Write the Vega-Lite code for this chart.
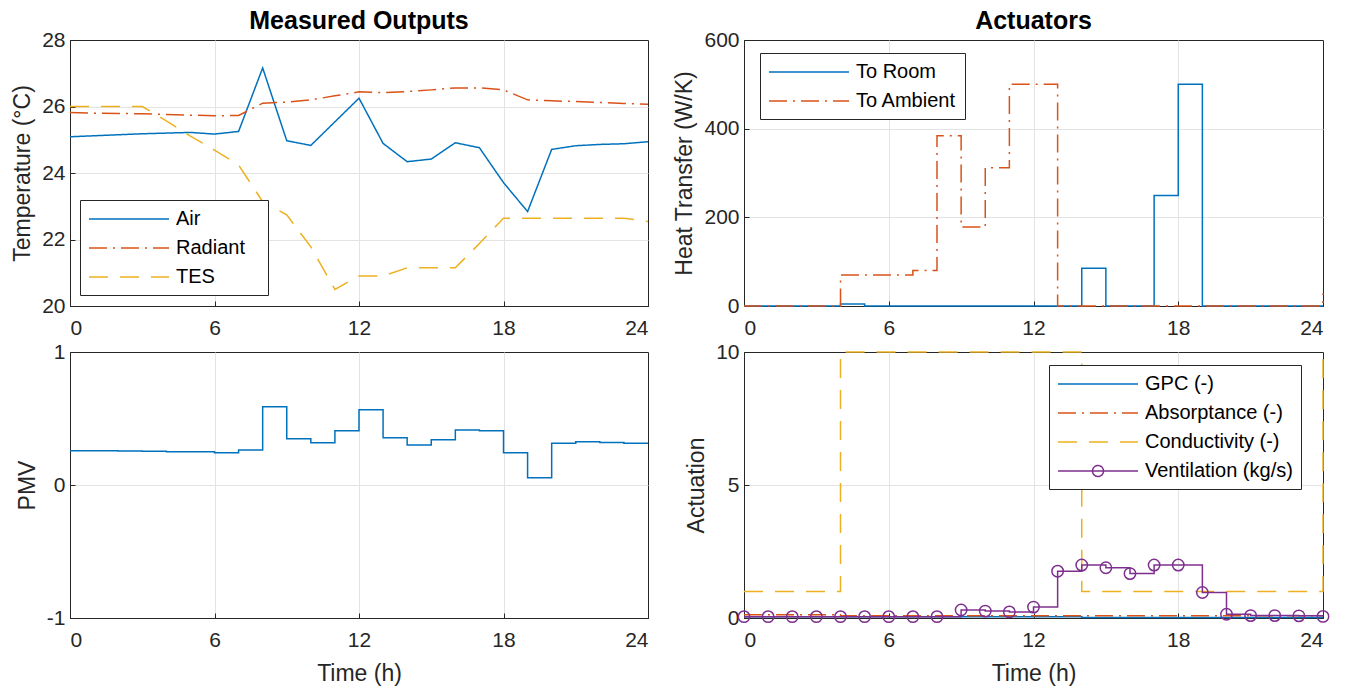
{
"$schema": "https://vega.github.io/schema/vega-lite/v6.json",
"padding": {"left": 11, "top": 8, "right": 5, "bottom": 5},
"background": "white",
"bounds": "flush",
"columns": 2,
"spacing": {"row": 46, "column": 96},
"resolve": {"scale": {"color": "independent", "strokeDash": "independent", "x": "independent", "y": "independent"}, "legend": {"color": "independent", "strokeDash": "independent"}},
"config": {
  "font": "Liberation Sans",
  "view": {"stroke": "#262626", "strokeWidth": 1},
  "axis": {"domainColor": "#262626", "tickColor": "#262626", "labelColor": "#262626", "titleColor": "#262626", "labelFontSize": 21, "titleFontSize": 23, "titleFontWeight": "normal", "gridColor": "#e3e3e3", "grid": true, "tickSize": -5, "labelPadding": 10, "titlePadding": 7},
  "axisX": {"labelPadding": 16, "titlePadding": 12, "gridOpacity": {"condition": {"test": "datum.value === 0 || datum.value === 24", "value": 0}, "value": 1}},
  "title": {"fontSize": 25, "fontWeight": "bold", "color": "#000000", "offset": -5, "anchor": "middle"},
  "legend": {"labelFontSize": 20, "labelColor": "#000000", "strokeColor": "#262626", "fillColor": "white", "padding": 8, "rowPadding": 8, "symbolSize": 400, "symbolStrokeWidth": 1.5, "symbolOffset": 30, "labelOffset": 36, "symbolType": "M-4,0H4", "cornerRadius": 0}
},
"datasets": {
 "temp": [
  {"t":0,"s":"Air","v":25.09},{"t":1,"s":"Air","v":25.12},{"t":2,"s":"Air","v":25.15},{"t":3,"s":"Air","v":25.18},{"t":4,"s":"Air","v":25.2},{"t":5,"s":"Air","v":25.22},{"t":6,"s":"Air","v":25.17},{"t":7,"s":"Air","v":25.25},{"t":8,"s":"Air","v":27.16},{"t":9,"s":"Air","v":24.97},{"t":10,"s":"Air","v":24.83},{"t":11,"s":"Air","v":25.54},{"t":12,"s":"Air","v":26.25},{"t":13,"s":"Air","v":24.89},{"t":14,"s":"Air","v":24.34},{"t":15,"s":"Air","v":24.42},{"t":16,"s":"Air","v":24.91},{"t":17,"s":"Air","v":24.76},{"t":18,"s":"Air","v":23.71},{"t":19,"s":"Air","v":22.84},{"t":20,"s":"Air","v":24.71},{"t":21,"s":"Air","v":24.82},{"t":22,"s":"Air","v":24.86},{"t":23,"s":"Air","v":24.88},{"t":24,"s":"Air","v":24.94},
  {"t":0,"s":"Radiant","v":25.82},{"t":1,"s":"Radiant","v":25.8},{"t":2,"s":"Radiant","v":25.79},{"t":3,"s":"Radiant","v":25.78},{"t":4,"s":"Radiant","v":25.76},{"t":5,"s":"Radiant","v":25.74},{"t":6,"s":"Radiant","v":25.72},{"t":7,"s":"Radiant","v":25.73},{"t":8,"s":"Radiant","v":26.1},{"t":9,"s":"Radiant","v":26.13},{"t":10,"s":"Radiant","v":26.2},{"t":11,"s":"Radiant","v":26.32},{"t":12,"s":"Radiant","v":26.44},{"t":13,"s":"Radiant","v":26.42},{"t":14,"s":"Radiant","v":26.45},{"t":15,"s":"Radiant","v":26.5},{"t":16,"s":"Radiant","v":26.56},{"t":17,"s":"Radiant","v":26.56},{"t":18,"s":"Radiant","v":26.5},{"t":19,"s":"Radiant","v":26.2},{"t":20,"s":"Radiant","v":26.17},{"t":21,"s":"Radiant","v":26.15},{"t":22,"s":"Radiant","v":26.12},{"t":23,"s":"Radiant","v":26.09},{"t":24,"s":"Radiant","v":26.07},
  {"t":0,"s":"TES","v":26.0},{"t":1,"s":"TES","v":26.0},{"t":2,"s":"TES","v":26.0},{"t":3,"s":"TES","v":26.0},{"t":4,"s":"TES","v":25.57},{"t":5,"s":"TES","v":25.11},{"t":6,"s":"TES","v":24.69},{"t":7,"s":"TES","v":24.24},{"t":8,"s":"TES","v":23.14},{"t":9,"s":"TES","v":22.74},{"t":10,"s":"TES","v":21.78},{"t":11,"s":"TES","v":20.5},{"t":12,"s":"TES","v":20.9},{"t":13,"s":"TES","v":20.9},{"t":14,"s":"TES","v":21.15},{"t":15,"s":"TES","v":21.15},{"t":16,"s":"TES","v":21.15},{"t":17,"s":"TES","v":21.88},{"t":18,"s":"TES","v":22.64},{"t":19,"s":"TES","v":22.64},{"t":20,"s":"TES","v":22.64},{"t":21,"s":"TES","v":22.64},{"t":22,"s":"TES","v":22.64},{"t":23,"s":"TES","v":22.64},{"t":24,"s":"TES","v":22.54}
 ],
 "heat": [
  {"t":0,"s":"To Room","v":0},{"t":1,"s":"To Room","v":0},{"t":2,"s":"To Room","v":0},{"t":3,"s":"To Room","v":0},{"t":4,"s":"To Room","v":4.5},{"t":5,"s":"To Room","v":0},{"t":6,"s":"To Room","v":0},{"t":7,"s":"To Room","v":0},{"t":8,"s":"To Room","v":0},{"t":9,"s":"To Room","v":0},{"t":10,"s":"To Room","v":0},{"t":11,"s":"To Room","v":0},{"t":12,"s":"To Room","v":0},{"t":13,"s":"To Room","v":0},{"t":14,"s":"To Room","v":85},{"t":15,"s":"To Room","v":0},{"t":16,"s":"To Room","v":0},{"t":17,"s":"To Room","v":249},{"t":18,"s":"To Room","v":500},{"t":19,"s":"To Room","v":0},{"t":20,"s":"To Room","v":0},{"t":21,"s":"To Room","v":0},{"t":22,"s":"To Room","v":0},{"t":23,"s":"To Room","v":0},{"t":24,"s":"To Room","v":0},
  {"t":0,"s":"To Ambient","v":0},{"t":1,"s":"To Ambient","v":0},{"t":2,"s":"To Ambient","v":0},{"t":3,"s":"To Ambient","v":0},{"t":4,"s":"To Ambient","v":70},{"t":5,"s":"To Ambient","v":70},{"t":6,"s":"To Ambient","v":70},{"t":7,"s":"To Ambient","v":80},{"t":8,"s":"To Ambient","v":384},{"t":9,"s":"To Ambient","v":178},{"t":10,"s":"To Ambient","v":312},{"t":11,"s":"To Ambient","v":500},{"t":12,"s":"To Ambient","v":500},{"t":13,"s":"To Ambient","v":0},{"t":14,"s":"To Ambient","v":0},{"t":15,"s":"To Ambient","v":0},{"t":16,"s":"To Ambient","v":0},{"t":17,"s":"To Ambient","v":0},{"t":18,"s":"To Ambient","v":0},{"t":19,"s":"To Ambient","v":0},{"t":20,"s":"To Ambient","v":0},{"t":21,"s":"To Ambient","v":0},{"t":22,"s":"To Ambient","v":0},{"t":23,"s":"To Ambient","v":0},{"t":24,"s":"To Ambient","v":28}
 ],
 "pmv": [
  {"t":0,"v":0.258},{"t":1,"v":0.258},{"t":2,"v":0.255},{"t":3,"v":0.253},{"t":4,"v":0.25},{"t":5,"v":0.25},{"t":6,"v":0.243},{"t":7,"v":0.263},{"t":8,"v":0.589},{"t":9,"v":0.348},{"t":10,"v":0.318},{"t":11,"v":0.408},{"t":12,"v":0.566},{"t":13,"v":0.356},{"t":14,"v":0.301},{"t":15,"v":0.341},{"t":16,"v":0.414},{"t":17,"v":0.408},{"t":18,"v":0.243},{"t":19,"v":0.055},{"t":20,"v":0.313},{"t":21,"v":0.326},{"t":22,"v":0.32},{"t":23,"v":0.313},{"t":24,"v":0.313}
 ],
 "act": [
  {"t":0,"s":"GPC (-)","v":0.05},{"t":1,"s":"GPC (-)","v":0.05},{"t":2,"s":"GPC (-)","v":0.05},{"t":3,"s":"GPC (-)","v":0.05},{"t":4,"s":"GPC (-)","v":0.05},{"t":5,"s":"GPC (-)","v":0.05},{"t":6,"s":"GPC (-)","v":0.05},{"t":7,"s":"GPC (-)","v":0.05},{"t":8,"s":"GPC (-)","v":0.05},{"t":9,"s":"GPC (-)","v":0.05},{"t":10,"s":"GPC (-)","v":0.05},{"t":11,"s":"GPC (-)","v":0.05},{"t":12,"s":"GPC (-)","v":0.05},{"t":13,"s":"GPC (-)","v":0.05},{"t":14,"s":"GPC (-)","v":0.02},{"t":15,"s":"GPC (-)","v":0.02},{"t":16,"s":"GPC (-)","v":0.02},{"t":17,"s":"GPC (-)","v":0.02},{"t":18,"s":"GPC (-)","v":0.02},{"t":19,"s":"GPC (-)","v":0.02},{"t":20,"s":"GPC (-)","v":0.02},{"t":21,"s":"GPC (-)","v":0.02},{"t":22,"s":"GPC (-)","v":0.02},{"t":23,"s":"GPC (-)","v":0.02},{"t":24,"s":"GPC (-)","v":0.02},
  {"t":0,"s":"Absorptance (-)","v":0.12},{"t":1,"s":"Absorptance (-)","v":0.12},{"t":2,"s":"Absorptance (-)","v":0.12},{"t":3,"s":"Absorptance (-)","v":0.12},{"t":4,"s":"Absorptance (-)","v":0.08},{"t":5,"s":"Absorptance (-)","v":0.08},{"t":6,"s":"Absorptance (-)","v":0.08},{"t":7,"s":"Absorptance (-)","v":0.08},{"t":8,"s":"Absorptance (-)","v":0.08},{"t":9,"s":"Absorptance (-)","v":0.08},{"t":10,"s":"Absorptance (-)","v":0.08},{"t":11,"s":"Absorptance (-)","v":0.08},{"t":12,"s":"Absorptance (-)","v":0.08},{"t":13,"s":"Absorptance (-)","v":0.08},{"t":14,"s":"Absorptance (-)","v":0.08},{"t":15,"s":"Absorptance (-)","v":0.08},{"t":16,"s":"Absorptance (-)","v":0.08},{"t":17,"s":"Absorptance (-)","v":0.08},{"t":18,"s":"Absorptance (-)","v":0.08},{"t":19,"s":"Absorptance (-)","v":0.08},{"t":20,"s":"Absorptance (-)","v":0.08},{"t":21,"s":"Absorptance (-)","v":0.08},{"t":22,"s":"Absorptance (-)","v":0.08},{"t":23,"s":"Absorptance (-)","v":0.08},{"t":24,"s":"Absorptance (-)","v":0.08},
  {"t":0,"s":"Conductivity (-)","v":1},{"t":1,"s":"Conductivity (-)","v":1},{"t":2,"s":"Conductivity (-)","v":1},{"t":3,"s":"Conductivity (-)","v":1},{"t":4,"s":"Conductivity (-)","v":10},{"t":5,"s":"Conductivity (-)","v":10},{"t":6,"s":"Conductivity (-)","v":10},{"t":7,"s":"Conductivity (-)","v":10},{"t":8,"s":"Conductivity (-)","v":10},{"t":9,"s":"Conductivity (-)","v":10},{"t":10,"s":"Conductivity (-)","v":10},{"t":11,"s":"Conductivity (-)","v":10},{"t":12,"s":"Conductivity (-)","v":10},{"t":13,"s":"Conductivity (-)","v":10},{"t":14,"s":"Conductivity (-)","v":1},{"t":15,"s":"Conductivity (-)","v":1},{"t":16,"s":"Conductivity (-)","v":1},{"t":17,"s":"Conductivity (-)","v":1},{"t":18,"s":"Conductivity (-)","v":1},{"t":19,"s":"Conductivity (-)","v":1},{"t":20,"s":"Conductivity (-)","v":1},{"t":21,"s":"Conductivity (-)","v":1},{"t":22,"s":"Conductivity (-)","v":1},{"t":23,"s":"Conductivity (-)","v":1},{"t":24,"s":"Conductivity (-)","v":10},
  {"t":0,"s":"Ventilation (kg/s)","v":0.05},{"t":1,"s":"Ventilation (kg/s)","v":0.05},{"t":2,"s":"Ventilation (kg/s)","v":0.05},{"t":3,"s":"Ventilation (kg/s)","v":0.05},{"t":4,"s":"Ventilation (kg/s)","v":0.05},{"t":5,"s":"Ventilation (kg/s)","v":0.05},{"t":6,"s":"Ventilation (kg/s)","v":0.05},{"t":7,"s":"Ventilation (kg/s)","v":0.05},{"t":8,"s":"Ventilation (kg/s)","v":0.05},{"t":9,"s":"Ventilation (kg/s)","v":0.3},{"t":10,"s":"Ventilation (kg/s)","v":0.26},{"t":11,"s":"Ventilation (kg/s)","v":0.23},{"t":12,"s":"Ventilation (kg/s)","v":0.41},{"t":13,"s":"Ventilation (kg/s)","v":1.76},{"t":14,"s":"Ventilation (kg/s)","v":1.99},{"t":15,"s":"Ventilation (kg/s)","v":1.89},{"t":16,"s":"Ventilation (kg/s)","v":1.67},{"t":17,"s":"Ventilation (kg/s)","v":1.99},{"t":18,"s":"Ventilation (kg/s)","v":1.99},{"t":19,"s":"Ventilation (kg/s)","v":0.96},{"t":20,"s":"Ventilation (kg/s)","v":0.14},{"t":21,"s":"Ventilation (kg/s)","v":0.09},{"t":22,"s":"Ventilation (kg/s)","v":0.09},{"t":23,"s":"Ventilation (kg/s)","v":0.08},{"t":24,"s":"Ventilation (kg/s)","v":0.06}
 ]
},
"concat": [
 {
  "title": "Measured Outputs",
  "width": 578, "height": 266,
  "data": {"name": "temp"},
  "mark": {"type": "line", "strokeWidth": 1.5},
  "encoding": {
   "x": {"field": "t", "type": "quantitative", "scale": {"domain": [0, 24], "nice": false}, "axis": {"values": [0, 6, 12, 18, 24], "title": null}},
   "y": {"field": "v", "type": "quantitative", "scale": {"domain": [20, 28], "nice": false, "zero": false}, "axis": {"values": [20, 22, 24, 26, 28], "title": "Temperature (°C)", "gridOpacity": {"condition": {"test": "datum.value === 20 || datum.value === 28", "value": 0}, "value": 1}}},
   "color": {"field": "s", "type": "nominal", "scale": {"domain": ["Air", "Radiant", "TES"], "range": ["#0072BD", "#D95319", "#EDB120"]}, "legend": {"title": null, "orient": "none", "legendX": 10, "legendY": 160, "labelExpr": "datum.label + '\u2800'"}},
   "strokeDash": {"field": "s", "type": "nominal", "scale": {"domain": ["Air", "Radiant", "TES"], "range": [[1, 0], [18, 6, 2, 6], [19, 12]]}, "legend": {"title": null, "orient": "none", "legendX": 10, "legendY": 160, "labelExpr": "datum.label + '\u2800'"}}
  }
 },
 {
  "title": "Actuators",
  "width": 579, "height": 266,
  "data": {"name": "heat"},
  "mark": {"type": "line", "strokeWidth": 1.5, "interpolate": "step-after"},
  "encoding": {
   "x": {"field": "t", "type": "quantitative", "scale": {"domain": [0, 24], "nice": false}, "axis": {"values": [0, 6, 12, 18, 24], "title": null}},
   "y": {"field": "v", "type": "quantitative", "scale": {"domain": [0, 600], "nice": false}, "axis": {"values": [0, 200, 400, 600], "title": "Heat Transfer (W/K)", "gridOpacity": {"condition": {"test": "datum.value === 0 || datum.value === 600", "value": 0}, "value": 1}}},
   "color": {"field": "s", "type": "nominal", "scale": {"domain": ["To Room", "To Ambient"], "range": ["#0072BD", "#D95319"]}, "legend": {"title": null, "orient": "none", "legendX": 16, "legendY": 13}},
   "strokeDash": {"field": "s", "type": "nominal", "scale": {"domain": ["To Room", "To Ambient"], "range": [[1, 0], [18, 6, 2, 6]]}, "legend": {"title": null, "orient": "none", "legendX": 16, "legendY": 13}}
  }
 },
 {
  "width": 578, "height": 266,
  "data": {"name": "pmv"},
  "mark": {"type": "line", "strokeWidth": 1.5, "interpolate": "step-after", "color": "#0072BD"},
  "encoding": {
   "x": {"field": "t", "type": "quantitative", "scale": {"domain": [0, 24], "nice": false}, "axis": {"values": [0, 6, 12, 18, 24], "title": "Time (h)"}},
   "y": {"field": "v", "type": "quantitative", "scale": {"domain": [-1, 1], "nice": false}, "axis": {"values": [-1, 0, 1], "labelExpr": "'' + datum.value", "title": "PMV", "gridOpacity": {"condition": {"test": "datum.value === -1 || datum.value === 1", "value": 0}, "value": 1}}}
  }
 },
 {
  "width": 579, "height": 266,
  "data": {"name": "act"},
  "layer": [
   {
    "mark": {"type": "line", "strokeWidth": 1.5, "interpolate": "step-after"},
    "encoding": {
     "x": {"field": "t", "type": "quantitative", "scale": {"domain": [0, 24], "nice": false}, "axis": {"values": [0, 6, 12, 18, 24], "title": "Time (h)"}},
     "y": {"field": "v", "type": "quantitative", "scale": {"domain": [0, 10], "nice": false}, "axis": {"values": [0, 5, 10], "title": "Actuation", "gridOpacity": {"condition": {"test": "datum.value === 0 || datum.value === 10", "value": 0}, "value": 1}}},
     "color": {"field": "s", "type": "nominal", "scale": {"domain": ["GPC (-)", "Absorptance (-)", "Conductivity (-)", "Ventilation (kg/s)"], "range": ["#0072BD", "#D95319", "#EDB120", "#7E2F8E"]}, "legend": {"title": null, "orient": "none", "legendX": 305, "legendY": 13, "encode": {"symbols": {"update": {"shape": {"signal": "datum.value === 'Ventilation (kg/s)' ? 'M-4,0H4M0.55,0A0.55,0.55,0,1,1,-0.55,0A0.55,0.55,0,1,1,0.55,0' : 'M-4,0H4'"}, "fill": {"value": "transparent"}}}}}},
     "strokeDash": {"field": "s", "type": "nominal", "scale": {"domain": ["GPC (-)", "Absorptance (-)", "Conductivity (-)", "Ventilation (kg/s)"], "range": [[1, 0], [18, 6, 2, 6], [19, 12], [1, 0]]}, "legend": {"title": null, "orient": "none", "legendX": 305, "legendY": 13, "encode": {"symbols": {"update": {"shape": {"signal": "datum.value === 'Ventilation (kg/s)' ? 'M-4,0H4M0.55,0A0.55,0.55,0,1,1,-0.55,0A0.55,0.55,0,1,1,0.55,0' : 'M-4,0H4'"}, "fill": {"value": "transparent"}}}}}}
    }
   },
   {
    "transform": [{"filter": "datum.s === 'Ventilation (kg/s)'"}],
    "mark": {"type": "point", "shape": "circle", "size": 130, "filled": false, "strokeWidth": 1.5, "color": "#7E2F8E", "opacity": 1},
    "encoding": {
     "x": {"field": "t", "type": "quantitative"},
     "y": {"field": "v", "type": "quantitative"}
    }
   }
  ]
 }
]
}
